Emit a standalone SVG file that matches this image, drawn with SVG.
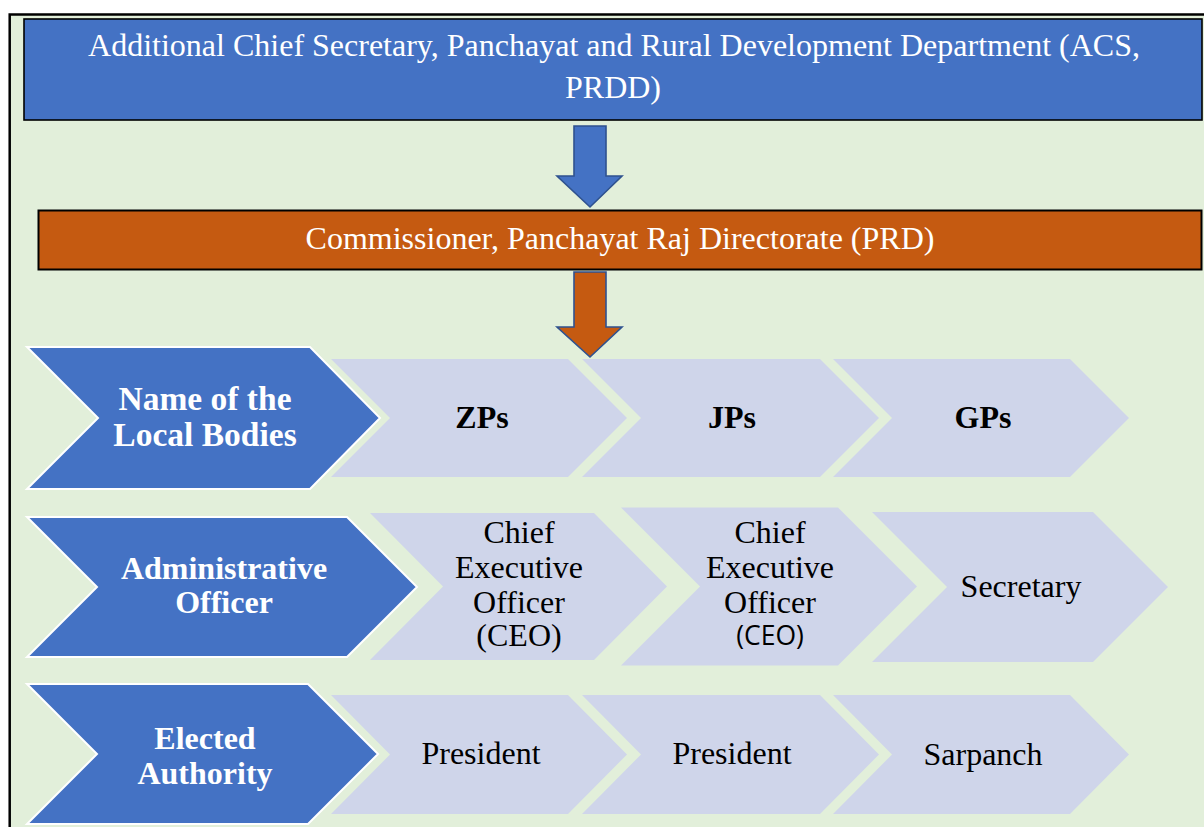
<svg xmlns="http://www.w3.org/2000/svg" width="1204" height="827" viewBox="0 0 1204 827">
  <style>
    .frame { fill: #E2EFDA; stroke: #000; stroke-width: 2.5; }
    .head-blue { fill: #4472C4; stroke: #000; stroke-width: 1.6; }
    .head-orange { fill: #C55A11; stroke: #000; stroke-width: 2; }
    .arrow-blue { fill: #4472C4; stroke: #2F528F; stroke-width: 1.6; stroke-linejoin: miter; }
    .arrow-orange { fill: #C55A11; stroke: #2F528F; stroke-width: 1.6; stroke-linejoin: miter; }
    .label-chev { fill: #4472C4; stroke: #FFFFFF; stroke-width: 2; }
    .cell-chev { fill: #CFD5EA; stroke: none; }
    .t { font-family: "Liberation Serif", "Times New Roman", serif; font-size: 32px; text-anchor: middle; }
    .white { fill: #FFFFFF; }
    .black { fill: #000000; }
    .bold { font-weight: bold; }
    .big { font-size: 33.5px; }
    .sans { font-family: "Open Sans", "Liberation Sans", sans-serif; font-size: 26.5px; }
  </style>

  <!-- page background and frame -->
  <rect x="0" y="0" width="1204" height="827" fill="#FFFFFF"/>
  <rect class="frame" x="9.7" y="14.5" width="1200" height="820"/>

  <!-- top authority -->
  <g id="acs-prdd">
    <rect class="head-blue" x="24" y="19" width="1178" height="101"/>
    <text class="t white" x="614" y="56">Additional Chief Secretary, Panchayat and Rural Development Department (ACS,</text>
    <text class="t white" x="613" y="98">PRDD)</text>
  </g>

  <!-- directorate -->
  <g id="commissioner-prd">
    <rect class="head-orange" x="38.5" y="210.5" width="1163" height="59"/>
    <text class="t white" x="620" y="249">Commissioner, Panchayat Raj Directorate (PRD)</text>
  </g>

  <!-- block arrows between levels -->
  <g id="connectors">
    <polygon class="arrow-blue" points="574,126 606,126 606,176 622,176 590,207 557,176 574,176"/>
    <polygon class="arrow-orange" points="574,272 606,272 606,327 622,327 590,357 557,327 574,327"/>
  </g>

  <!-- row 1: names of local bodies -->
  <g id="row-names-zp">
    <polygon class="cell-chev" points="331,359 568,359 627,418 568,477 331,477 390,418"/>
    <text class="t black bold" x="482" y="428">ZPs</text>
  </g>
  <g id="row-names-jp">
    <polygon class="cell-chev" points="582,359 820,359 879,418 820,477 582,477 641,418"/>
    <text class="t black bold" x="732" y="428">JPs</text>
  </g>
  <g id="row-names-gp">
    <polygon class="cell-chev" points="833,359 1070,359 1129,418 1070,477 833,477 892,418"/>
    <text class="t black bold" x="983" y="428">GPs</text>
  </g>
  <g id="row-names-label">
    <polygon class="label-chev" points="27,347 310,347 380,418 310,489 27,489 98,418"/>
    <text class="t white bold big" x="205" y="410">Name of the</text>
    <text class="t white bold big" x="205" y="446">Local Bodies</text>
  </g>

  <!-- row 2: administrative officers -->
  <g id="row-admin-zp">
    <polygon class="cell-chev" points="370,513 594,513 667,586.5 594,660 370,660 443,586.5"/>
    <text class="t black" x="519" y="543">Chief</text>
    <text class="t black" x="519" y="578">Executive</text>
    <text class="t black" x="519" y="613">Officer</text>
    <text class="t black" x="519" y="646">(CEO)</text>
  </g>
  <g id="row-admin-jp">
    <polygon class="cell-chev" points="621,507.5 838,507.5 917,586.5 838,665.5 621,665.5 700,586.5"/>
    <text class="t black" x="770" y="543">Chief</text>
    <text class="t black" x="770" y="578">Executive</text>
    <text class="t black" x="770" y="613">Officer</text>
    <text class="t black sans" x="770" y="645">(CEO)</text>
  </g>
  <g id="row-admin-gp">
    <polygon class="cell-chev" points="872,512 1093,512 1168,587 1093,662 872,662 947,587"/>
    <text class="t black" x="1021" y="597">Secretary</text>
  </g>
  <g id="row-admin-label">
    <polygon class="label-chev" points="27,517 347,517 417,587 347,657 27,657 97,587"/>
    <text class="t white bold" x="224" y="579">Administrative</text>
    <text class="t white bold" x="224" y="613">Officer</text>
  </g>

  <!-- row 3: elected authorities -->
  <g id="row-elected-zp">
    <polygon class="cell-chev" points="331,695 568,695 627,754.5 568,814 331,814 390,754.5"/>
    <text class="t black" x="481" y="764">President</text>
  </g>
  <g id="row-elected-jp">
    <polygon class="cell-chev" points="582,695 820,695 879,754.5 820,814 582,814 641,754.5"/>
    <text class="t black" x="732" y="764">President</text>
  </g>
  <g id="row-elected-gp">
    <polygon class="cell-chev" points="833,695 1070,695 1129,754.5 1070,814 833,814 892,754.5"/>
    <text class="t black" x="983" y="765">Sarpanch</text>
  </g>
  <g id="row-elected-label">
    <polygon class="label-chev" points="27,684 308,684 378,754 308,824 27,824 97,754"/>
    <text class="t white bold" x="205" y="749">Elected</text>
    <text class="t white bold" x="205" y="784">Authority</text>
  </g>
</svg>
